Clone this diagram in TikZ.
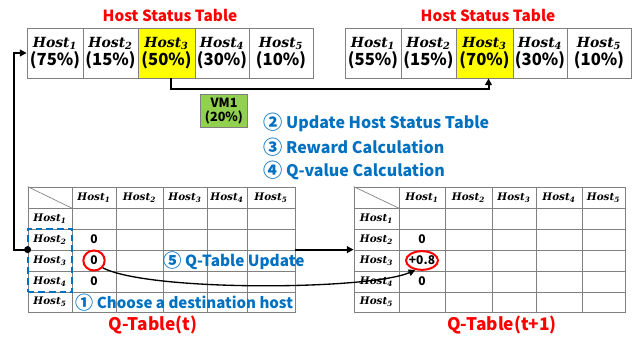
\documentclass[tikz,border=0pt]{standalone}
\usepackage{fontspec}
\newfontfamily\kr{Noto Sans CJK KR}
\newfontfamily\hostfont{DejaVu Serif}
\usetikzlibrary{arrows.meta,shapes.geometric,fit}
\definecolor{hsyellow}{HTML}{FFFF00}
\definecolor{vmgreen}{HTML}{92D050}
\definecolor{stepblue}{HTML}{0070C0}
\definecolor{gridgray}{HTML}{808080}
\definecolor{titlered}{HTML}{FF0000}
\newcommand\hostlbl[1]{{\hostfont\bfseries\itshape Host\textsubscript{#1}}}
\newcommand\stepno[1]{\raisebox{-0.12ex}{\scalebox{1.2}{#1}}}
\begin{document}
\begin{tikzpicture}[x=0.75pt,y=-0.75pt,
  hcell/.style={draw=gridgray, line width=0.6pt, inner sep=0pt, minimum height=37.5pt,
    align=center, font=\kr\bfseries\fontsize{12.5}{14}\selectfont},
  qcell/.style={draw=gridgray, line width=0.6pt, inner sep=0pt},
  qhost/.style={font=\fontsize{7.8}{9}\selectfont, inner sep=0pt},
  qval/.style={font=\kr\bfseries\fontsize{9}{10}\selectfont, inner sep=0pt},
  tabtitle/.style={text=titlered, font=\kr\bfseries\fontsize{11.5}{13}\selectfont},
  qtitle/.style={text=titlered, font=\kr\bfseries\fontsize{13}{15}\selectfont},
  stepnote/.style={text=stepblue, font=\kr\bfseries\fontsize{12}{14}\selectfont, inner sep=0pt},
  flow/.style={line width=1.5pt, -{Triangle[length=5pt,width=5pt]}},
  hit/.style={draw=titlered, line width=1.5pt, ellipse, inner sep=0pt},
]
\useasboundingbox (0,0) rectangle (636,339);

% host status tables (before / after migration)
\foreach \k/\xa/\xb/\pa/\pb/\fc in {1/27/83/75/55/white, 2/83/138/15/15/white,
    3/138/195/50/70/hsyellow, 4/195/249/30/30/white, 5/249/313/10/10/white} {
  \node[hcell, fill=\fc, minimum width={(\xb-\xa)*0.75pt}] (TL\k) at ({(\xa+\xb)/2},53)
    {{\fontsize{10.5}{14}\selectfont\hostlbl{\k}}\\(\pa\%)};
  \node[hcell, fill=\fc, minimum width={(\xb-\xa)*0.75pt}] (TR\k) at ({(\xa+\xb)/2+318},53)
    {{\fontsize{10.5}{14}\selectfont\hostlbl{\k}}\\(\pb\%)};
}
\node[tabtitle] (ttl) at (170,15) {Host Status Table};
\node[tabtitle] (ttr) at (488,15) {Host Status Table};

% migrating VM
\node[draw=gridgray, fill=vmgreen, line width=0.6pt, inner sep=0pt, minimum width=35pt,
  minimum height=25pt, align=center, font=\kr\bfseries\fontsize{9.5}{10.5}\selectfont]
  (vm) at (224,111) {VM1\\(20\%)};

% step notes
\node[stepnote, anchor=west] (s2) at (263,122) {\stepno{②} Update Host Status Table};
\node[stepnote, anchor=west] (s3) at (263,147) {\stepno{③} Reward Calculation};
\node[stepnote, anchor=west] (s4) at (263,170) {\stepno{④} Q-value Calculation};

% Q-tables: grid cells
\foreach \i/\xa/\xb in {0/28/72,1/72/116,2/116/163,3/163/207,4/207/247,5/247/295} {
  \foreach \j/\ya/\yb in {0/187/208,1/208/229,2/229/250,3/250/271,4/271/292,5/292/312} {
    \node[qcell, minimum width={(\xb-\xa)*0.75pt}, minimum height={(\yb-\ya)*0.75pt}]
      (L-\j-\i) at ({(\xa+\xb)/2},{(\ya+\yb)/2}) {};
  }
}
\foreach \i/\xa/\xb in {0/354/399,1/399/445,2/445/492,3/492/536,4/536/582,5/582/625} {
  \foreach \j/\ya/\yb in {0/187/208,1/208/229,2/229/250,3/250/271,4/271/292,5/292/312} {
    \node[qcell, minimum width={(\xb-\xa)*0.75pt}, minimum height={(\yb-\ya)*0.75pt}]
      (R-\j-\i) at ({(\xa+\xb)/2},{(\ya+\yb)/2}) {};
  }
}
\draw[gridgray, line width=0.5pt] (L-0-0.north west) -- (L-0-0.south east);
\draw[gridgray, line width=0.5pt] (R-0-0.north west) -- (R-0-0.south east);
\foreach \k in {1,...,5} {
  \node[qhost] at (L-0-\k) {\hostlbl{\k}};
  \node[qhost] at (L-\k-0) {\hostlbl{\k}};
  \node[qhost] at (R-0-\k) {\hostlbl{\k}};
  \node[qhost] at (R-\k-0) {\hostlbl{\k}};
}
\node[qval] (l21) at (L-2-1) {0};
\node[qval] (l31) at (L-3-1) {0};
\node[qval] (l41) at (L-4-1) {0};
\node[qval] (r21) at (R-2-1) {0};
\node[qval] (r31) at (R-3-1) {+0.8};
\node[qval] (r41) at (R-4-1) {0};
\node[hit, minimum width=16pt, minimum height=15pt] (cL) at (L-3-1) {};
\node[hit, minimum width=24pt, minimum height=14pt] (cR) at (R-3-1) {};

% selected candidate rows
\node[draw=stepblue, dash pattern=on 5pt off 3pt, line width=1.5pt, inner sep=0pt,
  fit=(L-2-0)(L-4-0)] (sel) {};

\node[stepnote, anchor=west, font=\kr\bfseries\fontsize{11.5}{14}\selectfont]
  (s5) at (163,261) {\stepno{⑤} Q-Table Update};
\node[stepnote, anchor=west, font=\kr\bfseries\fontsize{11.3}{14}\selectfont]
  (s1) at (75,303) {\stepno{①} Choose a destination host};
\node[qtitle] (qt) at (153,325) {Q-Table(t)};
\node[qtitle] (qt1) at (502,325) {Q-Table(t+1)};

% connectors
\coordinate (pick) at (L-3-0.north west);
\fill (pick) circle (3.5);
\draw[flow] (pick) -- ++(-14,0) |- (TL1.west);
\draw[flow] ([xshift=3pt]TL3.south) -- ++(0,11) -| ([xshift=3pt]TR3.south);
\draw[flow] (L-3-5.north east) -- (R-3-0.north west);
\draw[line width=1pt, -{Triangle[length=5pt,width=5pt]}] (cL.-40)
  .. controls (150,292) and (370,290) .. (cR.-125);
\end{tikzpicture}
\end{document}
